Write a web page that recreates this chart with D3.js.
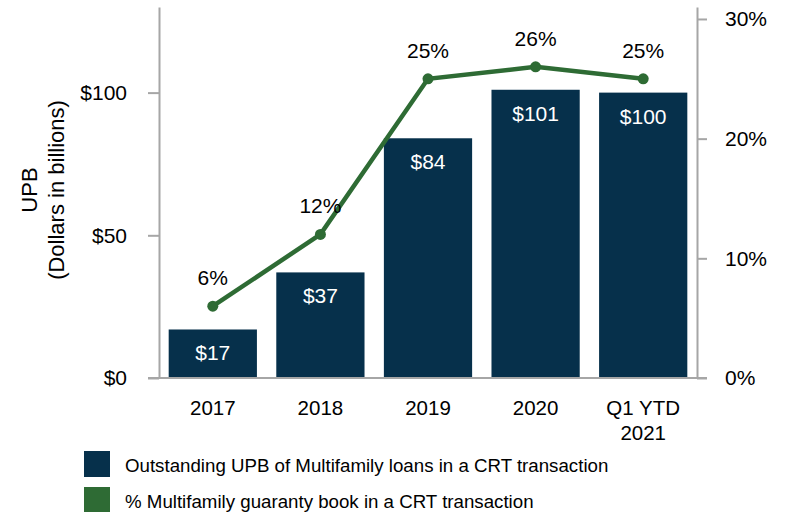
<!DOCTYPE html>
<html><head><meta charset="utf-8">
<script src="https://cdn.jsdelivr.net/npm/d3@7"></script>
<style>body{margin:0;background:#fff}svg{display:block;font-family:"Liberation Sans",Arial,sans-serif}</style>
</head><body><svg id="c" width="786" height="512"></svg>
<script>
const categories = [["2017"],["2018"],["2019"],["2020"],["Q1 YTD","2021"]];
const upb = [17, 37, 84, 101, 100];
const pct = [0.06, 0.12, 0.25, 0.26, 0.25];
const leftTicks = [0, 50, 100];
const rightTicks = [0, 0.1, 0.2, 0.3];
const legendLabels = ["Outstanding UPB of Multifamily loans in a CRT transaction","% Multifamily guaranty book in a CRT transaction"];

const barColor = "#06304b", lineColor = "#2e6b34", axisColor = "#a6a6a6";
const FS = 21;
const svg = d3.select("#c");
const L = 159, R = 697, T = 7, B = 378;
const keys = categories.map(d => d.join(" "));
const x = d3.scaleBand().domain(keys).range([L, R]).paddingInner(0.18).paddingOuter(0.09);
const y = d3.scaleLinear().domain([0, 130]).range([B, T]);
const y2 = d3.scaleLinear().domain([0, 0.31]).range([B, T]);

// bars
svg.selectAll("rect.bar").data(upb).join("rect")
  .attr("x", (d,i) => x(keys[i])).attr("width", x.bandwidth())
  .attr("y", d => y(d)).attr("height", d => B - y(d)).attr("fill", barColor);
svg.selectAll("text.bl").data(upb).join("text")
  .attr("x", (d,i) => x(keys[i]) + x.bandwidth()/2).attr("y", d => y(d) + 31)
  .attr("text-anchor","middle").attr("fill","#fff").attr("font-size",FS).text(d => "$" + d);

// axes
const axStyle = g => { g.attr("font-size", FS).attr("font-family","Liberation Sans, Arial, sans-serif");
  g.select(".domain").attr("stroke", axisColor).attr("stroke-width", 2);
  g.selectAll(".tick line").attr("stroke", axisColor).attr("stroke-width", 2);
  g.selectAll(".tick text").attr("fill","#000"); };
svg.append("g").attr("transform",`translate(${L},0)`)
  .call(d3.axisLeft(y).tickValues(leftTicks).tickSize(11).tickSizeOuter(0).tickPadding(21).tickFormat(d => "$" + d))
  .call(axStyle);
svg.append("g").attr("transform",`translate(${R},0)`)
  .call(d3.axisRight(y2).tickValues(rightTicks).tickSize(10).tickSizeOuter(0).tickPadding(18).tickFormat(d3.format(".0%")))
  .call(axStyle);
svg.append("line").attr("x1", L - 11).attr("x2", R + 10).attr("y1", B).attr("y2", B)
  .attr("stroke", axisColor).attr("stroke-width", 2);

// x labels
const xl = svg.selectAll("text.xl").data(categories).join("text")
  .attr("text-anchor","middle").attr("font-size",20.5).attr("fill","#000")
  .attr("x", (d,i) => x(keys[i]) + x.bandwidth()/2).attr("y", 415);
xl.selectAll("tspan").data(d => d).join("tspan")
  .attr("x", function(){ return this.parentNode.getAttribute("x"); })
  .attr("dy", (d,i) => i ? 25 : 0).text(d => d);

// line
const line = d3.line().x((d,i) => x(keys[i]) + x.bandwidth()/2).y(d => y2(d));
svg.append("path").datum(pct).attr("d", line).attr("fill","none").attr("stroke", lineColor).attr("stroke-width", 4.5);
svg.selectAll("circle.pt").data(pct).join("circle")
  .attr("cx", (d,i) => x(keys[i]) + x.bandwidth()/2).attr("cy", d => y2(d)).attr("r", 5.5).attr("fill", lineColor);
svg.selectAll("text.pl").data(pct).join("text")
  .attr("x", (d,i) => x(keys[i]) + x.bandwidth()/2).attr("y", d => y2(d) - 21)
  .attr("text-anchor","middle").attr("font-size",FS).attr("fill","#000").text(d => Math.round(d*100) + "%");

// y title
const yt = svg.append("text").attr("transform","translate(37,190) rotate(-90)")
  .attr("text-anchor","middle").attr("font-size",22).attr("fill","#000");
yt.append("tspan").attr("x",0).attr("dy",0).text("UPB");
yt.append("tspan").attr("x",0).attr("dy",27).text("(Dollars in billions)");

// legend
const lg = svg.selectAll("g.lg").data(legendLabels).join("g").attr("transform",(d,i) => `translate(84,${451 + i*36})`);
lg.append("rect").attr("width",26).attr("height",26).attr("fill",(d,i) => i ? lineColor : barColor);
lg.append("text").attr("x",41).attr("y",20.5).attr("font-size",18.7).attr("fill","#000").text(d => d);
</script></body></html>
